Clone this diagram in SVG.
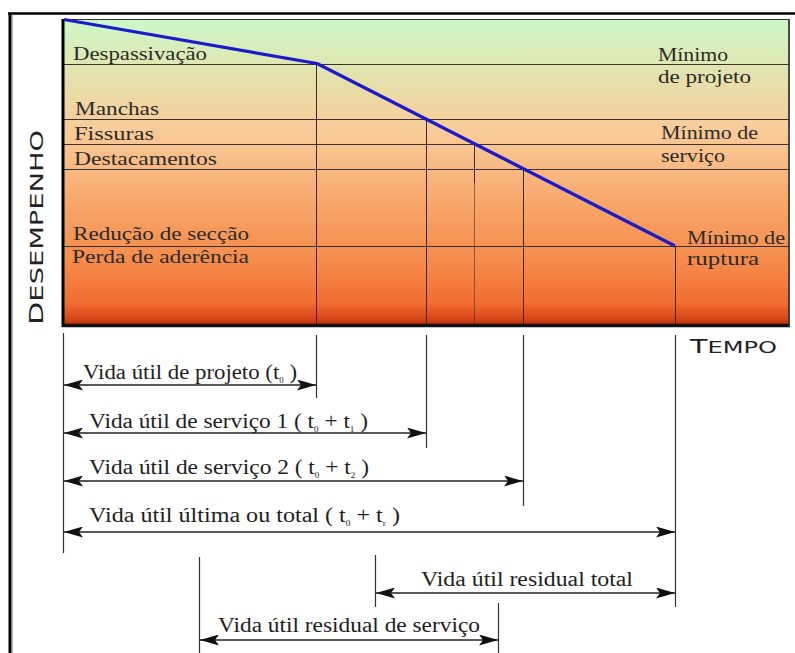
<svg xmlns="http://www.w3.org/2000/svg" width="795" height="653" viewBox="0 0 795 653">
<defs>
<linearGradient id="bg" x1="0" y1="19" x2="0" y2="325" gradientUnits="userSpaceOnUse">
<stop offset="0" stop-color="#cdf7c9"/>
<stop offset="0.12" stop-color="#dcebb6"/>
<stop offset="0.27" stop-color="#efd7a3"/>
<stop offset="0.38" stop-color="#f9c996"/>
<stop offset="0.5" stop-color="#f8b881"/>
<stop offset="0.62" stop-color="#f7a466"/>
<stop offset="0.8" stop-color="#f58a4a"/>
<stop offset="0.93" stop-color="#f26c31"/>
<stop offset="0.975" stop-color="#dc4a1b"/>
<stop offset="1" stop-color="#b83010"/>
</linearGradient>
<marker id="ah" markerUnits="userSpaceOnUse" markerWidth="19" markerHeight="11" refX="19" refY="5.5" orient="auto-start-reverse">
<path d="M0,0 L19,5.5 L0,11 L4,5.5 z" fill="#111"/>
</marker>
</defs>
<style>
.lbl{font-family:"Liberation Serif","DejaVu Serif",serif;font-size:19.5px;fill:#2b2b2b}
.blbl{font-family:"Liberation Serif","DejaVu Serif",serif;font-size:20.5px;fill:#1e1e1e}
.sub{font-size:8px}
.band{stroke:#3c3030;stroke-width:1;fill:none}
.vl{stroke:#3a2a22;stroke-width:1;fill:none}
.dim{stroke:#222;stroke-width:1.5;fill:none;marker-start:url(#ah);marker-end:url(#ah)}
.ext{stroke:#333;stroke-width:1.2;fill:none}
.axis{font-family:"DejaVu Sans","Liberation Sans",sans-serif;fill:#222}
</style>
<rect width="795" height="653" fill="#fff"/>
<g id="frame">
<line x1="8" y1="13.5" x2="795" y2="13.5" stroke="#000" stroke-width="2.5"/>
<line x1="10" y1="13" x2="10" y2="653" stroke="#000" stroke-width="3"/>
<line x1="12.5" y1="15" x2="12.5" y2="653" stroke="#bbb" stroke-width="1"/>
</g>
<g id="chart">
<rect x="63" y="19.5" width="726" height="305" fill="url(#bg)" stroke="#333" stroke-width="1"/>
<line class="band" x1="63" y1="64.5" x2="789" y2="64.5"/>
<line class="band" x1="63" y1="119.5" x2="789" y2="119.5"/>
<line class="band" x1="63" y1="144.5" x2="789" y2="144.5"/>
<line class="band" x1="63" y1="169.5" x2="789" y2="169.5"/>
<line class="band" x1="63" y1="246.5" x2="789" y2="246.5"/>
<line class="vl" x1="316.5" y1="64" x2="316.5" y2="325"/>
<line class="vl" x1="426.5" y1="119" x2="426.5" y2="325"/>
<line class="vl" x1="474.5" y1="144" x2="474.5" y2="183"/>
<line class="vl" x1="474.5" y1="183" x2="474.5" y2="325" opacity="0.55"/>
<line class="vl" x1="523.5" y1="169" x2="523.5" y2="325"/>
<line class="vl" x1="675.5" y1="246" x2="675.5" y2="325"/>
<line x1="63" y1="19" x2="63" y2="327" stroke="#000" stroke-width="3"/>
<line x1="62" y1="325.5" x2="790" y2="325.5" stroke="#111" stroke-width="3.5"/>
<line x1="789" y1="19" x2="789" y2="327" stroke="#333" stroke-width="1.5"/>
<polyline points="64,19.5 317,63.5 675,246" fill="none" stroke="#1b1bcc" stroke-width="3.2" stroke-linejoin="round"/>
</g>
<g id="labels">
<text class="lbl" x="73" y="60" textLength="134" lengthAdjust="spacingAndGlyphs">Despassivação</text>
<text class="lbl" x="75" y="115" textLength="84" lengthAdjust="spacingAndGlyphs">Manchas</text>
<text class="lbl" x="74" y="140" textLength="80" lengthAdjust="spacingAndGlyphs">Fissuras</text>
<text class="lbl" x="74" y="165" textLength="143" lengthAdjust="spacingAndGlyphs">Destacamentos</text>
<text class="lbl" x="73" y="240" textLength="176" lengthAdjust="spacingAndGlyphs">Redução de secção</text>
<text class="lbl" x="72" y="263" textLength="177" lengthAdjust="spacingAndGlyphs">Perda de aderência</text>
<text class="lbl" x="658" y="61" textLength="70" lengthAdjust="spacingAndGlyphs">Mínimo</text>
<text class="lbl" x="658" y="83" textLength="93" lengthAdjust="spacingAndGlyphs">de projeto</text>
<text class="lbl" x="661" y="139" textLength="97" lengthAdjust="spacingAndGlyphs">Mínimo de</text>
<text class="lbl" x="661" y="162" textLength="64" lengthAdjust="spacingAndGlyphs">serviço</text>
<text class="lbl" x="687" y="244" textLength="98" lengthAdjust="spacingAndGlyphs">Mínimo de</text>
<text class="lbl" x="687" y="265" textLength="72" lengthAdjust="spacingAndGlyphs">ruptura</text>
</g>
<g id="axes">
<text class="axis" transform="translate(43,325) rotate(-90)" font-size="20" textLength="195" lengthAdjust="spacingAndGlyphs">D<tspan font-size="18">ESEMPENHO</tspan></text>
<text class="axis" x="690" y="353" font-size="19" textLength="87" lengthAdjust="spacingAndGlyphs">T<tspan font-size="16">EMPO</tspan></text>
</g>
<g id="connectors">
<line class="ext" x1="63.5" y1="333" x2="63.5" y2="553"/>
<line class="ext" x1="316.5" y1="335" x2="316.5" y2="398"/>
<line class="ext" x1="426.5" y1="335" x2="426.5" y2="448"/>
<line class="ext" x1="523.5" y1="335" x2="523.5" y2="506" stroke="#000"/>
<line class="ext" x1="675.5" y1="335" x2="675.5" y2="607" stroke="#aaa"/>
<line class="ext" x1="375.5" y1="555" x2="375.5" y2="607"/>
<line class="ext" x1="199.5" y1="557" x2="199.5" y2="653" stroke="#999"/>
<line class="ext" x1="498.5" y1="603" x2="498.5" y2="653" stroke="#999"/>
<line class="dim" x1="64" y1="385" x2="316" y2="385"/>
<line class="dim" x1="64" y1="433" x2="426" y2="433"/>
<line class="dim" x1="64" y1="481" x2="523" y2="481"/>
<line class="dim" x1="64" y1="532" x2="675" y2="532"/>
<line class="dim" x1="376" y1="593" x2="675" y2="593"/>
<line class="dim" x1="200" y1="640" x2="498" y2="640"/>
</g>
<g id="dimlabels">
<text class="blbl" x="83" y="379" textLength="214" lengthAdjust="spacingAndGlyphs">Vida útil de projeto (t<tspan class="sub" dy="4">0</tspan><tspan dy="-4"> )</tspan></text>
<text class="blbl" x="89" y="428" textLength="279" lengthAdjust="spacingAndGlyphs">Vida útil de serviço 1 ( t<tspan class="sub" dy="4">0</tspan><tspan dy="-4">  + t</tspan><tspan class="sub" dy="4">1</tspan><tspan dy="-4">  )</tspan></text>
<text class="blbl" x="89" y="474" textLength="280" lengthAdjust="spacingAndGlyphs">Vida útil de serviço 2 ( t<tspan class="sub" dy="4">0</tspan><tspan dy="-4">  + t</tspan><tspan class="sub" dy="4">2</tspan><tspan dy="-4">  )</tspan></text>
<text class="blbl" x="89" y="522" textLength="311" lengthAdjust="spacingAndGlyphs">Vida útil última ou total ( t<tspan class="sub" dy="4">0</tspan><tspan dy="-4">  + t</tspan><tspan class="sub" dy="4">r</tspan><tspan dy="-4">  )</tspan></text>
<text class="blbl" x="421" y="586" textLength="212" lengthAdjust="spacingAndGlyphs">Vida útil residual total</text>
<text class="blbl" x="218" y="632" textLength="262" lengthAdjust="spacingAndGlyphs">Vida útil residual de serviço</text>
</g>
</svg>
